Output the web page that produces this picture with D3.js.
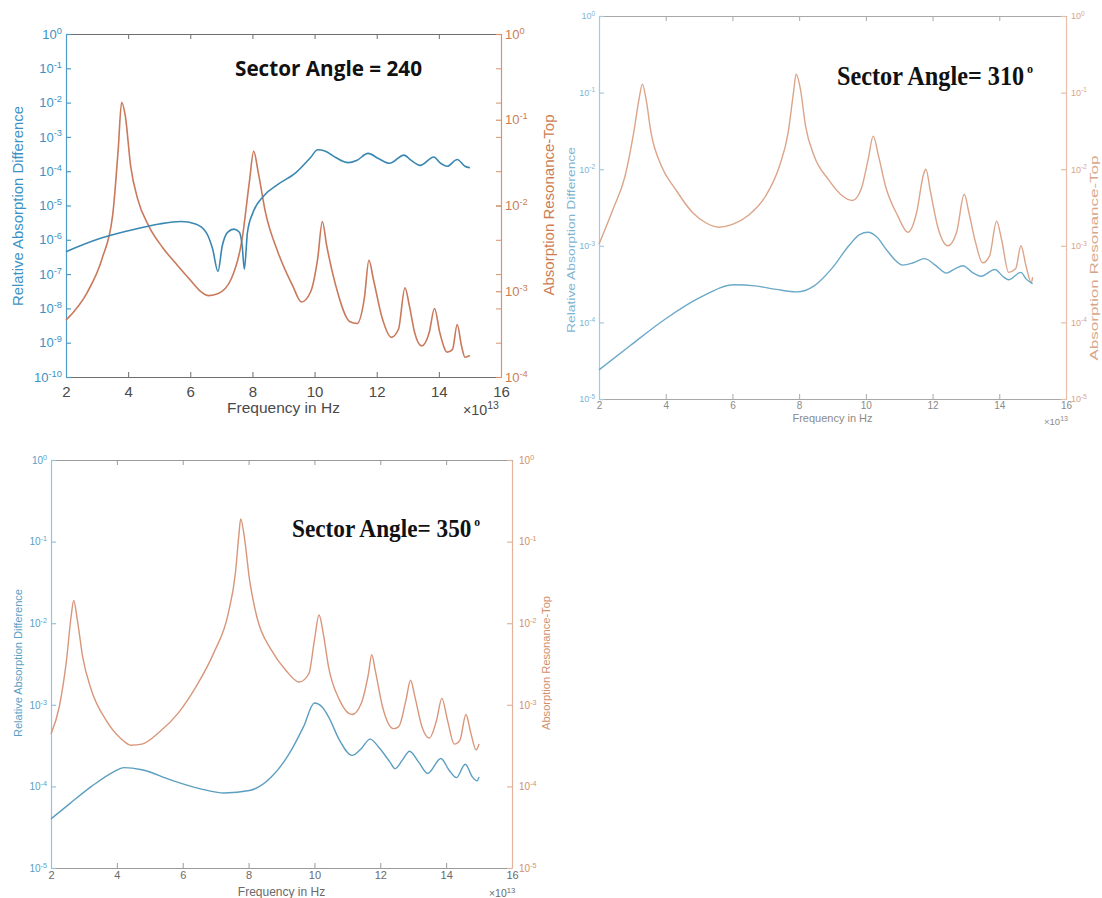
<!DOCTYPE html>
<html>
<head>
<meta charset="utf-8">
<script src="https://cdn.jsdelivr.net/npm/d3@7"></script>
<style>
  body { margin: 0; background: #fff; }
</style>
</head>
<body>
<svg id="chart" width="1102" height="898"></svg>
<script>
// x ticks (units of 1e13 Hz)
var freqTicks = [2, 4, 6, 8, 10, 12, 14, 16];

// Sector angle 240: relative absorption difference (left axis)
var p1DiffFreq = [2.0, 3.04, 3.97, 5.0, 5.7, 6.17, 6.51, 6.72, 6.89, 7.03, 7.2, 7.41, 7.58, 7.67, 7.74, 7.84, 8.02, 8.36, 8.83, 9.4, 9.87, 10.1, 10.33, 10.68, 11.08, 11.37, 11.72, 12.07, 12.41, 12.88, 13.1, 13.4, 13.84, 14.03, 14.27, 14.59, 14.84, 15.0];
var p1DiffVal  = [4.5e-7, 1.05e-6, 1.8e-6, 2.9e-6, 3.4e-6, 2.9e-6, 1.65e-6, 5.4e-7, 1.2e-7, 6.7e-7, 1.65e-6, 2.05e-6, 1.65e-6, 6.7e-7, 1.4e-7, 1.65e-6, 6.3e-6, 1.9e-5, 4.2e-5, 9.1e-5, 2.5e-4, 4.2e-4, 3.9e-4, 2.5e-4, 1.78e-4, 2.1e-4, 3.3e-4, 2.3e-4, 1.7e-4, 2.95e-4, 2.1e-4, 1.48e-4, 2.6e-4, 1.78e-4, 1.4e-4, 2.2e-4, 1.4e-4, 1.26e-4];
// Sector angle 240: absorption resonance-top (right axis)
var p1ResFreq = [2.0, 2.69, 3.16, 3.5, 3.68, 3.79, 3.91, 4.08, 4.31, 4.66, 5.12, 5.59, 6.0, 6.3, 6.6, 6.9, 7.32, 7.67, 7.9, 8.04, 8.19, 8.42, 8.83, 9.29, 9.58, 9.87, 10.1, 10.25, 10.39, 10.68, 11.14, 11.37, 11.6, 11.75, 11.89, 12.18, 12.47, 12.7, 12.91, 13.05, 13.22, 13.45, 13.69, 13.86, 14.03, 14.27, 14.44, 14.59, 14.73, 14.84, 15.0];
var p1ResVal  = [4.6e-4, 9.8e-4, 2.4e-3, 7.6e-3, 0.045, 0.16, 0.11, 0.029, 0.0118, 5.8e-3, 3.2e-3, 2.0e-3, 1.35e-3, 1.02e-3, 8.9e-4, 9.4e-4, 1.4e-3, 4.1e-3, 0.0186, 0.043, 0.024, 8.3e-3, 2.8e-3, 1.17e-3, 7.5e-4, 9.8e-4, 2.4e-3, 6.5e-3, 3.4e-3, 1.17e-3, 4.4e-4, 4.2e-4, 8.2e-4, 2.3e-3, 1.4e-3, 4.8e-4, 2.9e-4, 3.6e-4, 1.1e-3, 6.8e-4, 3.3e-4, 2.3e-4, 3.3e-4, 6.3e-4, 3.3e-4, 1.95e-4, 2.1e-4, 4.1e-4, 2.3e-4, 1.7e-4, 1.78e-4];

// Sector angle 310
var p2DiffFreq = [2.0, 2.94, 3.98, 5.02, 6.06, 6.68, 7.31, 7.93, 8.45, 8.97, 9.49, 9.81, 10.07, 10.33, 10.64, 11.11, 11.42, 11.76, 12.1, 12.41, 12.67, 12.91, 13.19, 13.45, 13.87, 14.13, 14.28, 14.65, 14.8, 15.0];
var p2DiffVal  = [2.4e-5, 5.0e-5, 1.1e-4, 2.1e-4, 3.1e-4, 3.0e-4, 2.7e-4, 2.5e-4, 3.0e-4, 5.0e-4, 1.0e-3, 1.4e-3, 1.5e-3, 1.3e-3, 8.6e-4, 5.6e-4, 6.0e-4, 6.8e-4, 5.5e-4, 4.4e-4, 5.0e-4, 5.5e-4, 4.5e-4, 4.0e-4, 4.9e-4, 3.9e-4, 3.6e-4, 4.5e-4, 3.7e-4, 3.2e-4];
var p2ResFreq = [2.0, 2.42, 2.78, 3.04, 3.2, 3.3, 3.41, 3.56, 3.87, 4.29, 4.81, 5.2, 5.6, 6.0, 6.48, 7.0, 7.41, 7.67, 7.83, 7.91, 8.04, 8.19, 8.45, 8.87, 9.29, 9.6, 9.86, 10.07, 10.22, 10.38, 10.59, 10.95, 11.26, 11.52, 11.73, 11.8, 11.94, 12.15, 12.46, 12.72, 12.95, 13.09, 13.29, 13.5, 13.71, 13.92, 14.07, 14.28, 14.49, 14.65, 14.8, 14.96, 15.0];
var p2ResVal  = [1.05e-3, 3.0e-3, 8.1e-3, 0.030, 0.082, 0.129, 0.082, 0.030, 0.011, 5.5e-3, 2.7e-3, 2.0e-3, 1.75e-3, 1.9e-3, 2.5e-3, 4.5e-3, 0.011, 0.030, 0.1, 0.174, 0.11, 0.037, 0.0149, 7.4e-3, 4.5e-3, 3.9e-3, 5.5e-3, 0.0135, 0.027, 0.0149, 6.0e-3, 2.5e-3, 1.5e-3, 2.7e-3, 8.6e-3, 0.01, 5.0e-3, 1.8e-3, 1.0e-3, 1.5e-3, 4.7e-3, 2.7e-3, 1.1e-3, 6.0e-4, 7.4e-4, 2.1e-3, 1.2e-3, 4.5e-4, 5.0e-4, 1.0e-3, 5.5e-4, 3.3e-4, 3.9e-4];

// Sector angle 350
var p3DiffFreq = [2.0, 2.58, 3.23, 3.89, 4.22, 4.76, 5.63, 6.51, 7.27, 8.03, 8.69, 9.23, 9.67, 10.0, 10.22, 10.43, 10.76, 11.14, 11.42, 11.69, 11.96, 12.29, 12.45, 12.67, 12.89, 13.16, 13.44, 13.84, 14.09, 14.31, 14.58, 14.8, 14.94, 15.0];
var p3DiffVal  = [4.0e-5, 6.2e-5, 1.0e-4, 1.5e-4, 1.7e-4, 1.6e-4, 1.2e-4, 9.4e-5, 8.3e-5, 8.9e-5, 1.3e-4, 2.5e-4, 5.4e-4, 1.05e-3, 9.5e-4, 7.1e-4, 3.7e-4, 2.4e-4, 2.9e-4, 3.8e-4, 3.0e-4, 2.0e-4, 1.65e-4, 2.1e-4, 2.7e-4, 2.0e-4, 1.44e-4, 2.2e-4, 1.58e-4, 1.28e-4, 1.87e-4, 1.3e-4, 1.17e-4, 1.3e-4];
var p3ResFreq = [2.0, 2.25, 2.47, 2.61, 2.69, 2.8, 2.96, 3.23, 3.67, 4.11, 4.43, 4.76, 5.31, 5.85, 6.4, 6.94, 7.38, 7.6, 7.71, 7.76, 7.87, 8.03, 8.25, 8.69, 9.13, 9.54, 9.83, 10.0, 10.14, 10.27, 10.43, 10.76, 11.14, 11.42, 11.64, 11.74, 11.85, 12.07, 12.4, 12.56, 12.78, 12.92, 13.05, 13.27, 13.49, 13.71, 13.87, 14.04, 14.25, 14.42, 14.6, 14.75, 14.91, 15.0];
var p3ResVal  = [4.4e-4, 9.4e-4, 3.5e-3, 0.012, 0.019, 0.011, 3.9e-3, 1.5e-3, 6.5e-4, 3.9e-4, 3.2e-4, 3.3e-4, 4.7e-4, 7.8e-4, 1.66e-3, 4.3e-3, 0.013, 0.041, 0.126, 0.19, 0.115, 0.034, 0.012, 4.7e-3, 2.65e-3, 1.9e-3, 2.4e-3, 6.2e-3, 0.0126, 7.4e-3, 2.9e-3, 1.15e-3, 7.6e-4, 1.04e-3, 2.4e-3, 4.1e-3, 2.6e-3, 9.4e-4, 5.1e-4, 5.4e-4, 1.14e-3, 2.0e-3, 1.26e-3, 5.3e-4, 3.9e-4, 6.5e-4, 1.2e-3, 6.5e-4, 3.3e-4, 3.7e-4, 7.6e-4, 4.5e-4, 2.8e-4, 3.3e-4];

var svg = d3.select("#chart");
var sans = "'Liberation Sans', Arial, sans-serif";
var serif = "'Liberation Serif', 'Times New Roman', serif";

var panels = [
  { title: "Sector Angle = 240", left: 66, right: 501, top: 34, bottom: 377,
    leftDomain: [1e-10, 1], rightDomain: [1e-4, 1],
    diff: [p1DiffFreq, p1DiffVal], res: [p1ResFreq, p1ResVal],
    blue: "#3a88b2", orange: "#c9795c", blueAxis: "#4f9cc7", orangeAxis: "#d69470",
    blueText: "#3d92c4", orangeText: "#cd7d52", gray: "#6e6e6e", grayText: "#4a4a4a",
    tickFont: 13, xTickFont: 15, labelFont: 14.5, xLabelFont: 15.5, lineWidth: 1.6, rightPad: 4,
    leftLabel: { x: 18, y: 206, len: 200 }, rightLabel: { x: 549, y: 205, len: 181 },
    xLabelY: 413, xTickDy: 18, expo: { x: 463, y: 415 },
    titleStyle: { x: 235, y: 76, len: 187, font: "'Open Sans', 'Liberation Sans', sans-serif", size: 21 } },
  { title: "Sector Angle= 310", left: 599, right: 1066, top: 16, bottom: 399,
    leftDomain: [1e-5, 1], rightDomain: [1e-5, 1],
    diff: [p2DiffFreq, p2DiffVal], res: [p2ResFreq, p2ResVal],
    blue: "#6ba9c8", orange: "#dca488", blueAxis: "#a3cbe0", orangeAxis: "#e8bea8",
    blueText: "#7fb4d0", orangeText: "#d9a589", gray: "#a8a8a8", grayText: "#8a8a8a",
    tickFont: 9, xTickFont: 10, labelFont: 11, xLabelFont: 11, lineWidth: 1.4, rightPad: 5,
    leftLabel: { x: 571, y: 240, len: 186 }, rightLabel: { x: 1094, y: 258, len: 205 },
    xLabelY: 422, xTickDy: 12, expo: { x: 1044, y: 425 },
    titleStyle: { x: 837, y: 85, len: 196, font: serif, size: 27, deg: true } },
  { title: "Sector Angle= 350", left: 51, right: 512, top: 460, bottom: 868,
    leftDomain: [1e-5, 1], rightDomain: [1e-5, 1],
    diff: [p3DiffFreq, p3DiffVal], res: [p3ResFreq, p3ResVal],
    blue: "#5c9ec0", orange: "#d8967a", blueAxis: "#96c3dc", orangeAxis: "#e5b39c",
    blueText: "#5a9fc6", orangeText: "#d4906c", gray: "#9a9a9a", grayText: "#6a6a6a",
    tickFont: 10, xTickFont: 11, labelFont: 11.5, xLabelFont: 12, lineWidth: 1.4, rightPad: 7,
    leftLabel: { x: 18, y: 663, len: 148 }, rightLabel: { x: 546, y: 663, len: 134 },
    xLabelY: 896, xTickDy: 12, expo: { x: 489, y: 897 },
    titleStyle: { x: 292, y: 537, len: 188, font: serif, size: 25, deg: true } }
];

function decades(domain) {
  var lo = Math.round(Math.log10(domain[0])), hi = Math.round(Math.log10(domain[1]));
  return d3.range(lo, hi + 1).map(function(e) { return Math.pow(10, e); });
}

function supLabels(sel, size) {
  sel.selectAll(".tick text")
    .text("10")
    .append("tspan")
    .attr("dy", "-0.55em")
    .attr("font-size", (size * 0.72) + "px")
    .text(function(d) { return Math.round(Math.log10(d)); });
}

panels.forEach(function(p) {
  var x = d3.scaleLinear().domain([2, 16]).range([p.left, p.right]);
  var yL = d3.scaleLog().domain(p.leftDomain).range([p.bottom, p.top]);
  var yR = d3.scaleLog().domain(p.rightDomain).range([p.bottom, p.top]);
  var g = svg.append("g").style("font-family", sans);

  // top border with mirrored x ticks
  var top = g.append("g").attr("transform", "translate(0," + p.top + ")")
      .call(d3.axisTop(x).tickValues(freqTicks).tickSizeInner(-5).tickSizeOuter(0).tickFormat(""));
  top.selectAll("path, line").attr("stroke", p.gray);

  // bottom axis
  var bottom = g.append("g").attr("transform", "translate(0," + p.bottom + ")")
      .call(d3.axisBottom(x).tickValues(freqTicks).tickSizeInner(-5).tickSizeOuter(0).tickPadding(p.xTickDy - 9));
  bottom.selectAll("path, line").attr("stroke", p.gray);
  bottom.attr("font-family", null);
  bottom.selectAll("text").attr("fill", p.grayText).attr("font-size", p.xTickFont + "px");

  // right side: left-axis decades mirrored (panel 1 shows them), then right axis
  if (p.leftDomain[0] !== p.rightDomain[0]) {
    var mirror = g.append("g").attr("transform", "translate(" + p.right + ",0)")
        .call(d3.axisRight(yL).tickValues(decades(p.leftDomain)).tickSizeInner(-5).tickSizeOuter(0).tickFormat(""));
    mirror.selectAll("path, line").attr("stroke", p.orangeAxis);
  }
  var right = g.append("g").attr("transform", "translate(" + p.right + ",0)")
      .call(d3.axisRight(yR).tickValues(decades(p.rightDomain)).tickSizeInner(-5).tickSizeOuter(0).tickPadding(p.rightPad));
  right.attr("font-family", null);
  right.selectAll("path, line").attr("stroke", p.orangeAxis).attr("stroke-width", 1.2);
  right.selectAll("text").attr("fill", p.orangeText).attr("font-size", p.tickFont + "px");
  supLabels(right, p.tickFont);

  // left axis
  var left = g.append("g").attr("transform", "translate(" + p.left + ",0)")
      .call(d3.axisLeft(yL).tickValues(decades(p.leftDomain)).tickSizeInner(-5).tickSizeOuter(0).tickPadding(4));
  left.attr("font-family", null);
  left.selectAll("path, line").attr("stroke", p.blueAxis).attr("stroke-width", 1.2);
  left.selectAll("text").attr("fill", p.blueText).attr("font-size", p.tickFont + "px");
  supLabels(left, p.tickFont);

  // curves
  var lineL = d3.line().x(function(d) { return x(d[0]); }).y(function(d) { return yL(d[1]); }).curve(d3.curveMonotoneX);
  var lineR = d3.line().x(function(d) { return x(d[0]); }).y(function(d) { return yR(d[1]); }).curve(d3.curveMonotoneX);

  g.append("path").datum(d3.zip(p.res[0], p.res[1]))
    .attr("fill", "none").attr("stroke", p.orange).attr("stroke-width", p.lineWidth).attr("d", lineR);
  g.append("path").datum(d3.zip(p.diff[0], p.diff[1]))
    .attr("fill", "none").attr("stroke", p.blue).attr("stroke-width", p.lineWidth).attr("d", lineL);

  // axis titles
  g.append("text")
    .attr("transform", "translate(" + p.leftLabel.x + "," + p.leftLabel.y + ") rotate(-90)")
    .attr("text-anchor", "middle").attr("dy", "0.35em")
    .attr("font-size", p.labelFont + "px").attr("fill", p.blueText)
    .attr("textLength", p.leftLabel.len).attr("lengthAdjust", "spacingAndGlyphs")
    .text("Relative Absorption Difference");
  g.append("text")
    .attr("transform", "translate(" + p.rightLabel.x + "," + p.rightLabel.y + ") rotate(-90)")
    .attr("text-anchor", "middle").attr("dy", "0.35em")
    .attr("font-size", p.labelFont + "px").attr("fill", p.orangeText)
    .attr("textLength", p.rightLabel.len).attr("lengthAdjust", "spacingAndGlyphs")
    .text("Absorption Resonance-Top");
  g.append("text")
    .attr("x", (p.left + p.right) / 2).attr("y", p.xLabelY)
    .attr("text-anchor", "middle").attr("font-size", p.xLabelFont + "px").attr("fill", p.grayText)
    .text("Frequency in Hz");

  var ex = g.append("text").attr("x", p.expo.x).attr("y", p.expo.y)
    .attr("font-size", (p.xTickFont * 0.95) + "px").attr("fill", p.grayText);
  ex.append("tspan").text("\u00d710");
  ex.append("tspan").attr("dy", "-0.55em").attr("font-size", (p.xTickFont * 0.7) + "px").text("13");

  // panel title (degree mark as a raised small "o" inside the same text)
  var t = p.titleStyle;
  var title = g.append("text").attr("x", t.x).attr("y", t.y)
    .style("font-family", t.font).style("font-weight", "bold").attr("font-size", t.size + "px")
    .attr("fill", "#111")
    .attr("textLength", t.len).attr("lengthAdjust", "spacingAndGlyphs");
  title.append("tspan").text(p.title);
  if (t.deg) {
    title.append("tspan").attr("dx", 3).attr("dy", -t.size * 0.45)
      .attr("font-size", (t.size * 0.5) + "px").text("o");
  }
});
</script>
</body>
</html>
